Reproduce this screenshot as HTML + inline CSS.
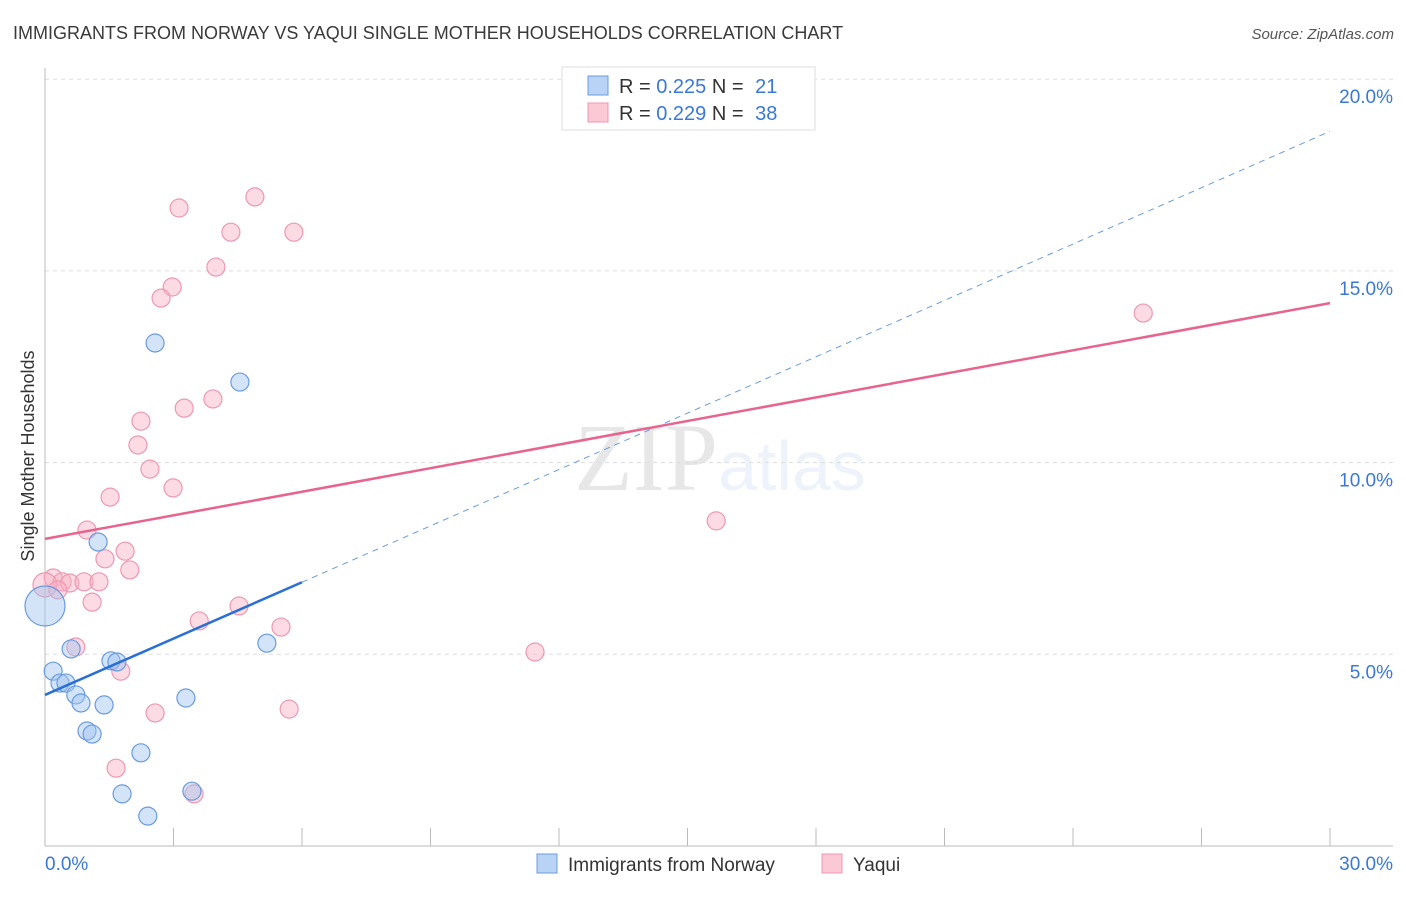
<!DOCTYPE html>
<html><head><meta charset="utf-8"><style>
body{margin:0;background:#fff;font-family:"Liberation Sans",sans-serif;}
svg text{font-family:"Liberation Sans",sans-serif;}
</style></head><body>
<svg id="chart" width="1406" height="892" xmlns="http://www.w3.org/2000/svg">
<text x="13" y="39" font-size="18" fill="#3a3a3a">IMMIGRANTS FROM NORWAY VS YAQUI SINGLE MOTHER HOUSEHOLDS CORRELATION CHART</text>
<text x="1394" y="39" font-size="15" fill="#555" text-anchor="end" font-style="italic">Source: ZipAtlas.com</text>
<text x="720" y="490" font-size="96" text-anchor="middle" fill="#000" opacity="0.09"><tspan font-family="Liberation Serif">ZIP</tspan><tspan fill="#4a7fd9" opacity="1" font-size="70">atlas</tspan></text>
<g id="grid"></g><g id="axes"></g><g id="marks"></g>
<text transform="translate(34,456) rotate(-90)" font-size="18" fill="#333" text-anchor="middle">Single Mother Households</text>
<g>
<rect x="562" y="67" width="253" height="63" fill="#fff" stroke="#ddd"/>
<rect x="588" y="76" width="20" height="19" fill="#b9d3f5" stroke="#6a9be0"/>
<rect x="588" y="103" width="20" height="19" fill="#fbc8d6" stroke="#ee98b2"/>
<text x="619" y="93" font-size="20" fill="#333">R = <tspan fill="#3a78d8">0.225</tspan>   N = <tspan fill="#3a78d8" dx="6">21</tspan></text>
<text x="619" y="120" font-size="20" fill="#333">R = <tspan fill="#3a78d8">0.229</tspan>   N = <tspan fill="#3a78d8" dx="6">38</tspan></text>
</g>
<g>
<rect x="537" y="854" width="20" height="19" fill="#b9d3f5" stroke="#6a9be0"/>
<text x="568" y="871" font-size="19" fill="#333">Immigrants from Norway</text>
<rect x="822" y="854" width="20" height="19" fill="#fbc8d6" stroke="#ee98b2"/>
<text x="853" y="871" font-size="19" fill="#333">Yaqui</text>
</g>
</svg>
<script>
const yTicks=[5,10,15,20];
const yTickLabels=["5.0%","10.0%","15.0%","20.0%"];
const xTickLabels=["0.0%","30.0%"];
const norwayX=[2.57,4.55,1.24,0,0.61,5.18,0.19,0.35,0.49,0.72,0.84,1.38,1.54,1.68,3.29,0.98,1.10,2.24,1.80,3.43,2.40];
const norwayY=[13.12,12.10,7.93,6.26,5.14,5.29,4.56,4.25,4.25,3.94,3.73,3.68,4.83,4.80,3.86,3.00,2.92,2.43,1.36,1.43,0.78];
const norwayR=[9,9,9,20,9,9,9,9,9,9,9,9,9,9,9,9,9,9,9,9,9];
const yaquiX=[4.90,3.13,4.34,5.81,3.99,2.97,2.71,25.64,3.92,3.25,2.24,2.17,2.45,2.99,1.52,15.67,0.98,1.87,1.40,1.98,0.19,0.40,0.58,0.91,1.26,1.10,4.53,3.60,5.51,0.72,1.77,11.44,2.57,5.70,1.66,3.48,0,0.30];
const yaquiY=[16.93,16.64,16.01,16.01,15.10,14.58,14.29,13.90,11.66,11.42,11.08,10.46,9.83,9.34,9.10,8.48,8.24,7.69,7.49,7.20,6.99,6.89,6.86,6.89,6.89,6.36,6.26,5.87,5.71,5.19,4.56,5.06,3.47,3.57,2.03,1.36,6.81,6.68];
const norwayTrend=[3.94,0.49];
const yaquiTrend=[8.01,0.205];
const norwayDataMaxX=6.0;
const NS="http://www.w3.org/2000/svg";
const x=v=>45+v/30*1285;
const y=v=>846-v*38.34;
function mk(tag,attrs,parent){const e=document.createElementNS(NS,tag);for(const k in attrs)e.setAttribute(k,attrs[k]);document.getElementById(parent).appendChild(e);return e;}
yTicks.forEach((t,i)=>{
 const g=mk('line',{x1:45,x2:1393,y1:y(t),y2:y(t),stroke:'#ddd','stroke-dasharray':'4,4'},'grid');
 
 
 const l=mk('text',{x:1393,y:y(t)+24,'font-size':19,fill:'#3a78d8','text-anchor':'end'},'grid');
 l.textContent=yTickLabels[i];
 
 
});
const ax=mk('line',{x1:45,x2:1393,y1:846,y2:846,stroke:'#bbb'},'axes');


const ay=mk('line',{x1:45,x2:45,y1:68,y2:846,stroke:'#bbb'},'axes');


for(let i=1;i<=10;i++){
 const tk=mk('line',{x1:x(i*3),x2:x(i*3),y1:828,y2:846,stroke:'#bbb'},'axes');
 
 
}
[[0,'start',45],[30,'end',1393]].forEach((p,i)=>{
 const t=mk('text',{x:p[2],y:870,'font-size':19,fill:'#3a78d8','text-anchor':p[1]},'axes');
 t.textContent=xTickLabels[i];
 
 
});
yaquiX.forEach((v,i)=>{
 const c=mk('circle',{cx:x(v),cy:y(yaquiY[i]),r:(i>=36&&i==36)?12:9,fill:'rgba(248,175,196,0.45)',stroke:'#ee98b2','stroke-width':1.2},'marks');
 
 
});
norwayX.forEach((v,i)=>{
 const c=mk('circle',{cx:x(v),cy:y(norwayY[i]),r:norwayR[i],fill:'rgba(160,195,240,0.45)',stroke:'#6a9be0','stroke-width':1.2},'marks');
 
 
});
const nd=mk('line',{x1:x(norwayDataMaxX),y1:y(norwayTrend[0]+norwayTrend[1]*norwayDataMaxX),x2:x(30),y2:y(norwayTrend[0]+norwayTrend[1]*30),stroke:'#6a9be0','stroke-width':1,'stroke-dasharray':'6,5'},'marks');


const nl=mk('line',{x1:x(0),y1:y(norwayTrend[0]),x2:x(norwayDataMaxX),y2:y(norwayTrend[0]+norwayTrend[1]*norwayDataMaxX),stroke:'#2a6fd6','stroke-width':2.5},'marks');


const yl=mk('line',{x1:x(0),y1:y(yaquiTrend[0]),x2:x(30),y2:y(yaquiTrend[0]+yaquiTrend[1]*30),stroke:'#e8638d','stroke-width':2.5},'marks');


</script>
</body></html>
